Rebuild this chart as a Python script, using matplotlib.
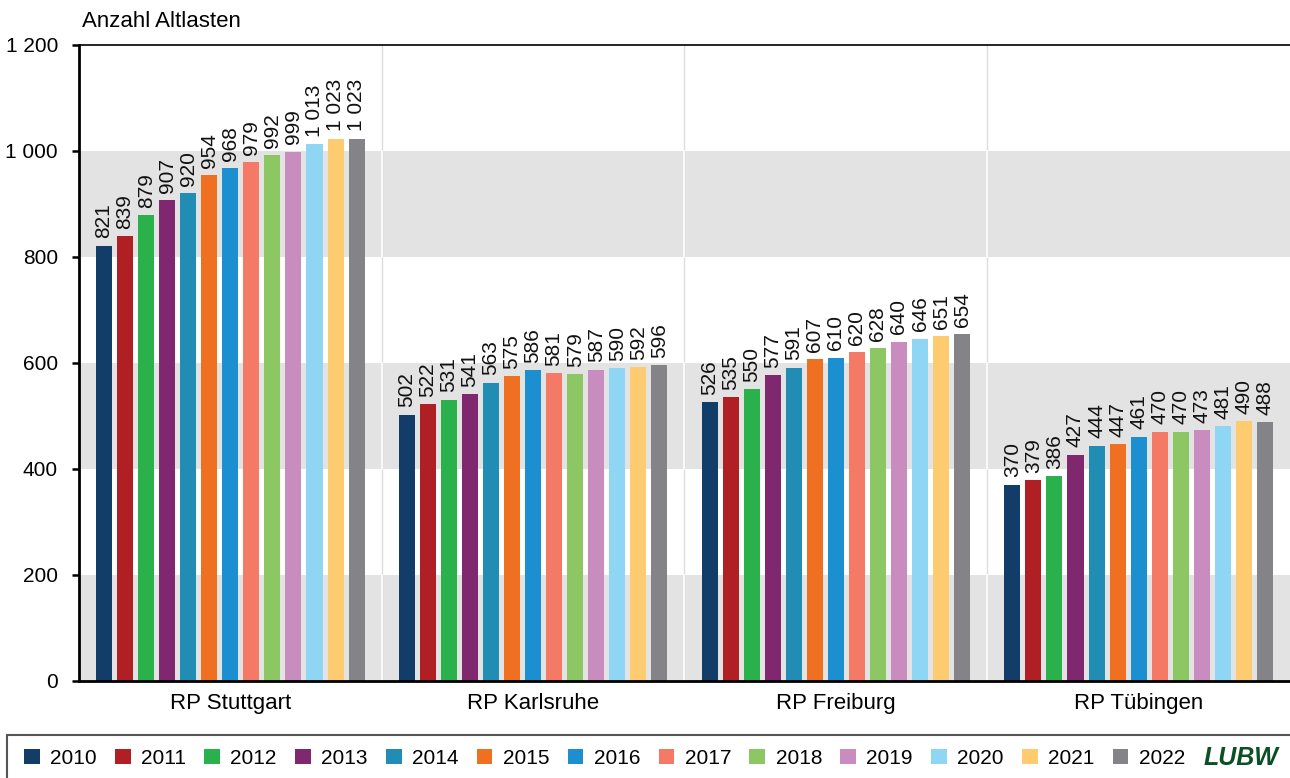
import matplotlib.pyplot as plt
import numpy as np
from matplotlib.patches import Patch, Rectangle

plt.rcParams["font.family"] = ["Liberation Sans", "DejaVu Sans"]

regions = ["RP Stuttgart", "RP Karlsruhe", "RP Freiburg", "RP Tübingen"]
years = [str(y) for y in range(2010, 2023)]
colors = ["#123d69", "#b01f24", "#2ab14b", "#80286f", "#228db4", "#f07022",
          "#1b8fd0", "#f47a66", "#8cc763", "#c88dbe", "#8fd6f5", "#fecb71",
          "#848488"]

stuttgart = [821, 839, 879, 907, 920, 954, 968, 979, 992, 999, 1013, 1023, 1023]
karlsruhe = [502, 522, 531, 541, 563, 575, 586, 581, 579, 587, 590, 592, 596]
freiburg = [526, 535, 550, 577, 591, 607, 610, 620, 628, 640, 646, 651, 654]
tuebingen = [370, 379, 386, 427, 444, 447, 461, 470, 470, 473, 481, 490, 488]
values = np.array([stuttgart, karlsruhe, freiburg, tuebingen])


def fmt(v):
    return f"{v:,}".replace(",", " ")


fig = plt.figure(figsize=(12.9, 7.78), dpi=100)
ax = fig.add_axes([0.0612, 0.1247, 0.9388, 0.8175])

# horizontal bands
for lo in (0, 400, 800):
    ax.axhspan(lo, lo + 200, color="#e3e3e3", lw=0, zorder=0)
# group separators
for xs in (0.5, 1.5, 2.5):
    ax.axvline(xs, color="#dddddd", lw=1, zorder=0.5)
    for lo in (0, 400, 800):
        ax.plot([xs, xs], [lo, lo + 200], color="white", lw=1.2, zorder=0.6)

step = 0.0695
width = 0.053
x = np.arange(len(regions))
n = len(years)
for i, yr in enumerate(years):
    pos = x + (i - (n - 1) / 2) * step
    ax.bar(pos, values[:, i], width=width, color=colors[i], zorder=2)
    for px, v in zip(pos, values[:, i]):
        ax.text(px, v + 14, fmt(v), rotation=90, ha="center", va="bottom",
                fontsize=15, color="#111111", zorder=3)

ax.set_xlim(-0.5, 3.5)
ax.set_ylim(0, 1200)
ax.set_xticks(x)
ax.set_xticklabels(regions, fontsize=16)
ax.tick_params(axis="x", length=0, pad=9)
ax.set_yticks(range(0, 1201, 200))
ax.set_yticklabels([fmt(v) for v in range(0, 1201, 200)], fontsize=15)
ax.tick_params(axis="y", length=5, width=1.8, direction="out", pad=10)
for s in ("left", "bottom"):
    ax.spines[s].set_linewidth(2)
ax.spines["top"].set_linewidth(1.2)
ax.spines["right"].set_visible(False)
ax.text(0.0025, 1.02, "Anzahl Altlasten", transform=ax.transAxes, ha="left",
        va="bottom", fontsize=16)

# legend box
fig.patches.append(Rectangle((7 / 1290, -0.01), 1.01, 51 / 778,
                             transform=fig.transFigure, fill=False,
                             edgecolor="#555555", lw=1.5))
handles = [Patch(facecolor=c, edgecolor="none") for c in colors]
leg = fig.legend(handles, years, loc="center left",
                 bbox_to_anchor=(24 / 1290, 20 / 778),
                 ncol=13, fontsize=15, handlelength=0.75, handleheight=0.75,
                 handletextpad=0.5, columnspacing=0.88, borderpad=0,
                 borderaxespad=0, frameon=False)
fig.text(1241 / 1290, 20 / 778, "LUBW", color="#0b4f25", fontsize=18,
         fontweight="bold", style="italic", ha="center", va="center")

fig.savefig("out.png", dpi=100)
